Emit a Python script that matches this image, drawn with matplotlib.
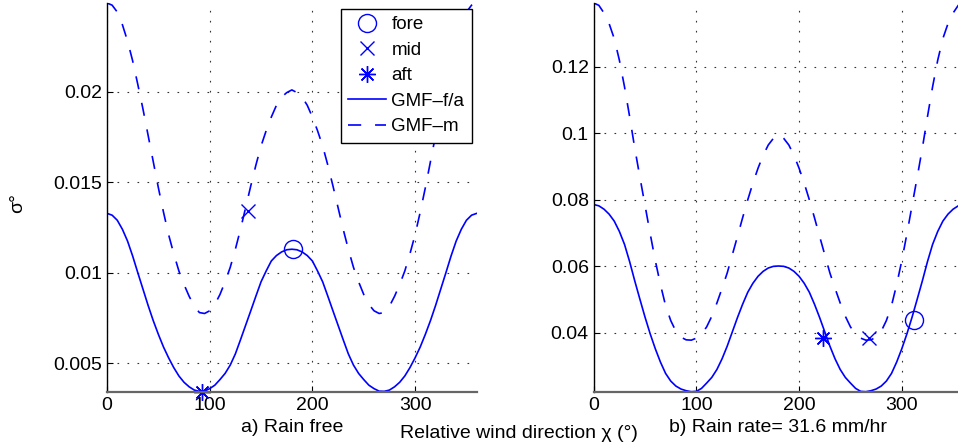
import matplotlib
matplotlib.use("Agg")
import matplotlib.pyplot as plt
import numpy as np

plt.rcParams['font.family'] = ['Liberation Sans', 'DejaVu Sans']
plt.rcParams['lines.scale_dashes'] = False

# relative wind direction (deg), 5 deg steps
chi = np.arange(0, 361, 5)

# a) rain free: GMF curves
rain_free_fa = [0.01328, 0.01318, 0.01290, 0.01240, 0.01175, 0.01092,
                0.01000, 0.00910, 0.00820, 0.00736, 0.00660, 0.00590,
                0.00530, 0.00476, 0.00430, 0.00395, 0.00370, 0.00352,
                0.00345, 0.00346, 0.00360, 0.00379, 0.00410, 0.00444,
                0.00490, 0.00552, 0.00630, 0.00710, 0.00790, 0.00871,
                0.00950, 0.01010, 0.01065, 0.01095, 0.01115, 0.01127,
                0.01130, 0.01127, 0.01115, 0.01095, 0.01065, 0.01010,
                0.00950, 0.00871, 0.00790, 0.00710, 0.00630, 0.00552,
                0.00490, 0.00444, 0.00410, 0.00379, 0.00360, 0.00346,
                0.00345, 0.00352, 0.00370, 0.00395, 0.00430, 0.00476,
                0.00530, 0.00590, 0.00660, 0.00736, 0.00820, 0.00910,
                0.01000, 0.01092, 0.01175, 0.01240, 0.01290, 0.01318,
                0.01328]
rain_free_m = [0.0249, 0.02478, 0.0244, 0.0237, 0.0228, 0.0217,
               0.0204, 0.01905, 0.0176, 0.01615, 0.0147, 0.01335,
               0.0121, 0.01105, 0.0101, 0.00935, 0.0087, 0.00815,
               0.0078, 0.00775, 0.0079, 0.00825, 0.0088, 0.0095,
               0.0103, 0.0113, 0.0124, 0.0136, 0.0148, 0.01595,
               0.0170, 0.01785, 0.0186, 0.01925, 0.0197, 0.01995,
               0.0201, 0.01995, 0.0197, 0.01925, 0.0186, 0.01785,
               0.0170, 0.01595, 0.0148, 0.0136, 0.0124, 0.0113,
               0.0103, 0.0095, 0.0088, 0.00825, 0.0079, 0.00775,
               0.0078, 0.00815, 0.0087, 0.00935, 0.0101, 0.01105,
               0.0121, 0.01335, 0.0147, 0.01615, 0.0176, 0.01905,
               0.0204, 0.0217, 0.0228, 0.0237, 0.0244, 0.02478,
               0.0249]

# b) rain rate 31.6 mm/hr: GMF curves
rain_fa = [0.0786, 0.0782, 0.0772, 0.0757, 0.0736, 0.0705,
           0.0666, 0.0614, 0.0556, 0.0501, 0.0447, 0.0397,
           0.0352, 0.0312, 0.0278, 0.0255, 0.0240, 0.0231,
           0.0226, 0.0223, 0.0224, 0.0233, 0.0249, 0.0266,
           0.0290, 0.0322, 0.0360, 0.0403, 0.0446, 0.0486,
           0.0522, 0.0549, 0.0570, 0.0585, 0.0595, 0.0600,
           0.0601, 0.0600, 0.0595, 0.0585, 0.0570, 0.0549,
           0.0522, 0.0486, 0.0446, 0.0403, 0.0360, 0.0322,
           0.0290, 0.0266, 0.0249, 0.0233, 0.0224, 0.0223,
           0.0226, 0.0231, 0.0240, 0.0255, 0.0278, 0.0312,
           0.0352, 0.0397, 0.0447, 0.0501, 0.0556, 0.0614,
           0.0666, 0.0705, 0.0736, 0.0757, 0.0772, 0.0782,
           0.0786]
rain_m = [0.1392, 0.1385, 0.1362, 0.1330, 0.1285, 0.1220,
          0.1140, 0.1050, 0.0955, 0.0868, 0.0783, 0.0698,
          0.0617, 0.0545, 0.0482, 0.0437, 0.0405, 0.0387,
          0.0379, 0.0378, 0.0384, 0.0396, 0.0418, 0.0450,
          0.0490, 0.0534, 0.0580, 0.0635, 0.0690, 0.0746,
          0.0800, 0.0850, 0.0895, 0.0934, 0.0965, 0.0985,
          0.0998, 0.0985, 0.0965, 0.0934, 0.0895, 0.0850,
          0.0800, 0.0746, 0.0690, 0.0635, 0.0580, 0.0534,
          0.0490, 0.0450, 0.0418, 0.0396, 0.0384, 0.0378,
          0.0379, 0.0387, 0.0405, 0.0437, 0.0482, 0.0545,
          0.0617, 0.0698, 0.0783, 0.0868, 0.0955, 0.1050,
          0.1140, 0.1220, 0.1285, 0.1330, 0.1362, 0.1385,
          0.1392]

# measured sigma0 for the three beams: (chi, sigma0)
free_fore = (181.4, 0.01129)
free_mid = (137.6, 0.01343)
free_aft = (92.2, 0.00343)
rain_fore = (312.0, 0.0440)
rain_mid = (268.0, 0.0383)
rain_aft = (223.0, 0.0383)

free_yticks = [0.005, 0.01, 0.015, 0.02]
free_ylabels = ['0.005', '0.01', '0.015', '0.02']
rain_yticks = [0.04, 0.06, 0.08, 0.1, 0.12]
rain_ylabels = ['0.04', '0.06', '0.08', '0.1', '0.12']
xticks = [0, 100, 200, 300]

blue = '#0000ff'
fs = 14
W, H = 958, 446

fig = plt.figure(figsize=(W / 100, H / 100), dpi=100)
ax1 = fig.add_axes([107 / W, 1 - 391.7 / H, 369.7 / W, 388.7 / H])
ax2 = fig.add_axes([593.7 / W, 1 - 391.7 / H, 369.7 / W, 388.7 / H])


def draw_panel(ax, fa, m, fore, mid, aft, ylim, yticks, ylabels):
    ax.plot(chi, fa, color=blue, lw=1.2, label='GMF–f/a')
    ax.plot(chi, m, color=blue, lw=1.2, dashes=(9.5, 10), label='GMF–m')
    hf, = ax.plot(*fore, 'o', mfc='none', mec=blue, ms=13, mew=1.0, label='fore', clip_on=False)
    hm, = ax.plot(*mid, 'x', color=blue, ms=10, mew=1.0, label='mid', clip_on=False)
    ha, = ax.plot(*aft, marker=(8, 2, 0), ls='none', color=blue, ms=12, mew=1.0,
                  label='aft', clip_on=False)
    ax.set_xlim(0, 360)
    ax.set_ylim(*ylim)
    ax.set_xticks(xticks)
    ax.set_xticklabels([str(t) for t in xticks])
    ax.set_yticks(yticks)
    ax.set_yticklabels(ylabels)
    ax.tick_params(direction='in', length=4, width=0.8, labelsize=fs, pad=4)
    ax.tick_params(axis='y', pad=3.5)
    ax.grid(True, color='0.2', lw=0.8, dashes=(1.2, 6))
    for side in ('top', 'right'):
        ax.spines[side].set_visible(False)
    ax.spines['left'].set_color('black')
    ax.spines['left'].set_linewidth(1.0)
    ax.spines['bottom'].set_color('0.4')
    ax.spines['bottom'].set_linewidth(1.6)
    return [hf, hm, ha] + ax.get_lines()[:2]


handles = draw_panel(ax1, rain_free_fa, rain_free_m, free_fore, free_mid, free_aft,
                     (0.00343, 0.0249), free_yticks, free_ylabels)
draw_panel(ax2, rain_fa, rain_m, rain_fore, rain_mid, rain_aft,
           (0.0223, 0.1392), rain_yticks, rain_ylabels)

leg = ax1.legend(handles=handles, loc='upper right', bbox_to_anchor=(472 / W, 1 - 8.5 / H),
                 bbox_transform=fig.transFigure, borderaxespad=0, fontsize=13.5, numpoints=1,
                 handlelength=2.0, handletextpad=0.3, labelspacing=0.45, borderpad=0.4,
                 fancybox=False, framealpha=1, edgecolor='black')
leg.get_frame().set_linewidth(1.0)

fig.text(18 / W, 1 - 203 / H, 'σ°', rotation=90, ha='center', va='center', fontsize=fs)
fig.text(292 / W, 1 - 427 / H, 'a) Rain free', ha='center', va='center', fontsize=fs)
fig.text(778 / W, 1 - 427 / H, 'b) Rain rate= 31.6 mm/hr', ha='center', va='center', fontsize=fs)
fig.text(519 / W, 1 - 433 / H, 'Relative wind direction χ (°)', ha='center', va='center',
         fontsize=fs)

fig.savefig('out.png', dpi=100)
